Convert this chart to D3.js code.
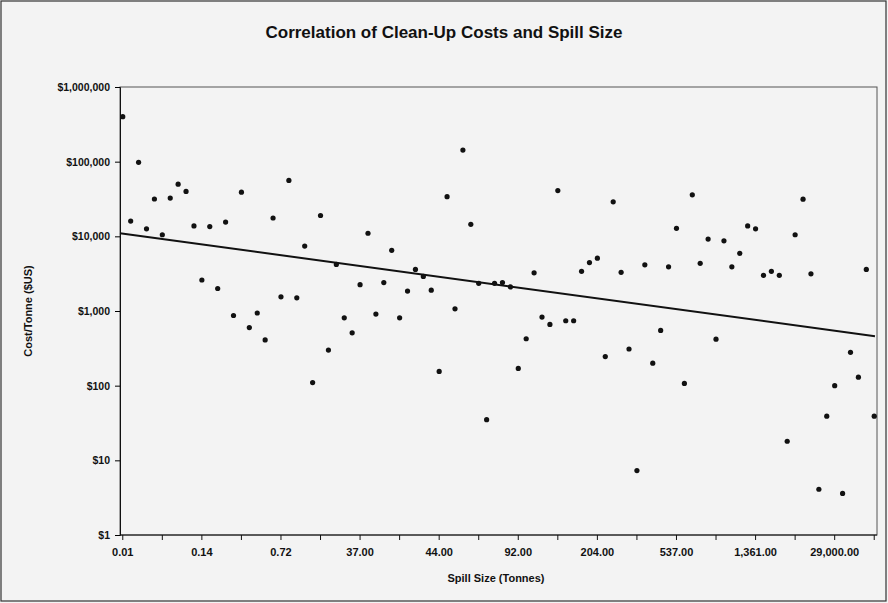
<!DOCTYPE html>
<html>
<head>
<meta charset="utf-8">
<script src="https://cdn.jsdelivr.net/npm/d3@7"></script>
<style>
  body { margin: 0; background: #f3f3f3; }
  text { font-family: "Liberation Sans", Arial, sans-serif; fill: #111; }
</style>
</head>
<body>
<div id="chart"></div>
<script>
// cost per tonne for each spill, in order of spill size
const costs = [
  400000, 16000, 98000, 12600, 31600, 10500, 32500, 50000, 40000, 13800,
  2600, 13500, 2000, 15500, 870, 39000, 600, 940, 410, 17600,
  1550, 56000, 1500, 7400, 110, 19000, 300, 4200, 810, 510,
  2250, 11000, 910, 2400, 6500, 810, 1850, 3600, 2900, 1900,
  155, 34000, 1070, 143000, 14500, 2350, 35, 2350, 2400, 2100,
  170, 425, 3250, 830, 660, 41000, 740, 740, 3400, 4450,
  5100, 245, 29000, 3300, 310, 7.3, 4150, 200, 550, 3900,
  12800, 107, 36000, 4350, 9200, 420, 8700, 3900, 5900, 13800,
  12600, 3000, 3400, 3000, 18, 10500, 31500, 3150, 4.1, 39,
  100, 3.6, 280, 130, 3600, 39
];
const tickLabels = ["0.01", "0.14", "0.72", "37.00", "44.00", "92.00", "204.00", "537.00", "1,361.00", "29,000.00"];
const yTicks = [1, 10, 100, 1000, 10000, 100000, 1000000];
const trendEnds = [11000, 460];

const W = 888, H = 603;
const m = { left: 120, right: 11, top: 87, bottom: 68 };

const svg = d3.select("#chart").append("svg")
  .attr("width", W).attr("height", H);

svg.append("rect").attr("x", 1).attr("y", 1).attr("width", W - 3).attr("height", H - 3)
  .attr("fill", "#f3f3f3").attr("stroke", "#333").attr("stroke-width", 1.2);

const idx = d3.range(costs.length);
const x = d3.scalePoint().domain(idx).range([m.left, W - m.right]).padding(0.35);
const y = d3.scaleLog().domain([1, 1000000]).range([H - m.bottom, m.top]);

// plot frame
svg.append("rect").attr("x", m.left).attr("y", m.top)
  .attr("width", W - m.right - m.left).attr("height", H - m.bottom - m.top)
  .attr("fill", "none").attr("stroke", "#555").attr("stroke-width", 1);

const yAxis = svg.append("g")
  .attr("transform", `translate(${m.left},0)`)
  .call(d3.axisLeft(y).tickValues(yTicks).tickSize(5)
    .tickFormat(d => "$" + d3.format(",")(d)));
yAxis.select(".domain").attr("stroke", "#111");
yAxis.selectAll("text").attr("font-size", 10.5).attr("font-weight", "bold").attr("dx", -2);

const step = x.step();
const xTickIdx = d3.range(0, costs.length, 5);
const xAxis = svg.append("g")
  .attr("transform", `translate(0,${H - m.bottom})`);
xAxis.append("line").attr("x1", m.left).attr("x2", W - m.right)
  .attr("stroke", "#111");
xAxis.selectAll("line.tick").data(xTickIdx).enter().append("line")
  .attr("class", "tick")
  .attr("x1", d => x(d)).attr("x2", d => x(d))
  .attr("y1", 0).attr("y2", 5).attr("stroke", "#111");
xAxis.selectAll("text").data(tickLabels).enter().append("text")
  .attr("x", (d, i) => x(i * 10))
  .attr("y", 21)
  .attr("text-anchor", "middle")
  .attr("font-size", 11).attr("font-weight", "bold")
  .text(d => d);

// trend line
svg.append("line")
  .attr("x1", m.left).attr("x2", W - m.right - 2)
  .attr("y1", y(trendEnds[0])).attr("y2", y(trendEnds[1]))
  .attr("stroke", "#111").attr("stroke-width", 2);

svg.selectAll("circle").data(costs).enter().append("circle")
  .attr("cx", (d, i) => x(i))
  .attr("cy", d => y(d))
  .attr("r", 2.6)
  .attr("fill", "#111");

svg.append("text").attr("x", 444).attr("y", 38).attr("text-anchor", "middle")
  .attr("font-size", 17).attr("font-weight", "bold")
  .text("Correlation of Clean-Up Costs and Spill Size");

svg.append("text").attr("x", 496).attr("y", 582).attr("text-anchor", "middle")
  .attr("font-size", 11).attr("font-weight", "bold")
  .text("Spill Size (Tonnes)");

svg.append("text")
  .attr("transform", `translate(32,${(m.top + H - m.bottom) / 2}) rotate(-90)`)
  .attr("text-anchor", "middle")
  .attr("font-size", 11).attr("font-weight", "bold")
  .text("Cost/Tonne ($US)");
</script>
</body>
</html>
